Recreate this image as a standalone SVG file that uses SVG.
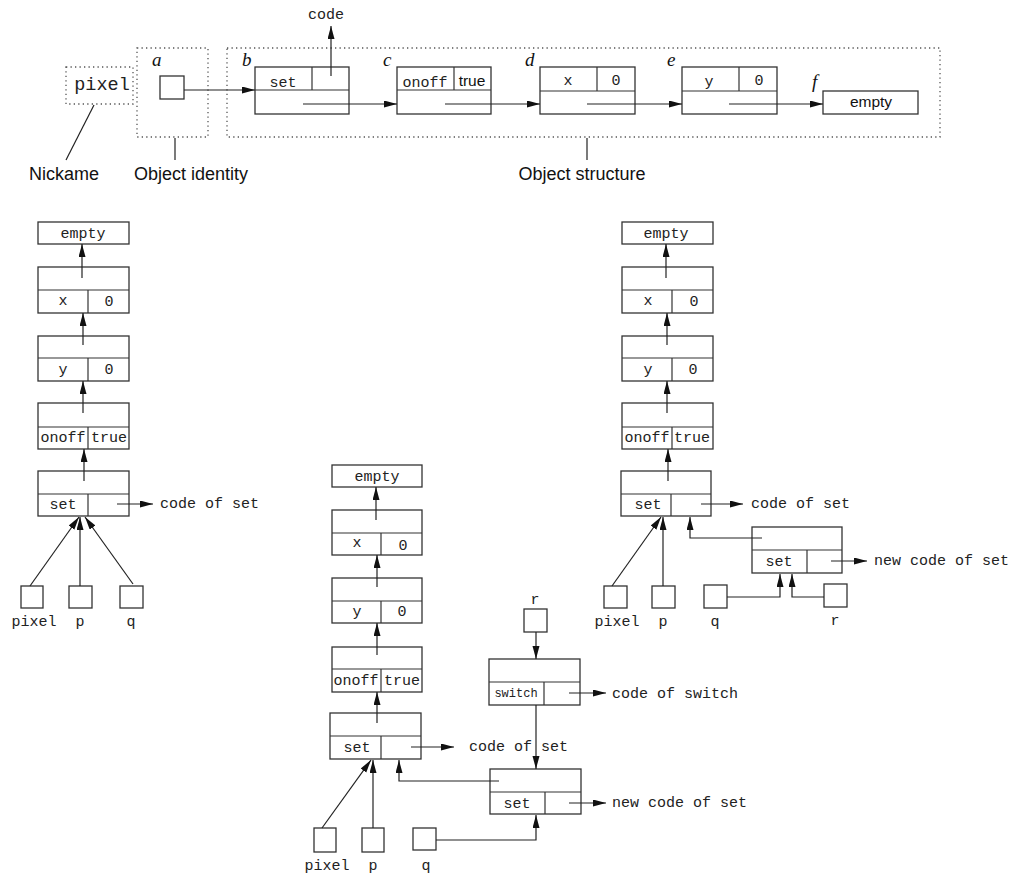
<svg xmlns="http://www.w3.org/2000/svg" width="1012" height="875" viewBox="0 0 1012 875">
<style>
.bx{fill:#fff;stroke:#333;stroke-width:1.3}
.ln{fill:none;stroke:#333;stroke-width:1.2}
.cn{fill:none;stroke:#222;stroke-width:1.2}
.dot{fill:none;stroke:#555;stroke-width:1.3;stroke-dasharray:1.3 3.2}
.m{font-family:"Liberation Mono","DejaVu Sans Mono",monospace;font-size:15px;fill:#222}
.ms{font-family:"Liberation Mono","DejaVu Sans Mono",monospace;font-size:12px;fill:#222}
.s{font-family:"Liberation Sans",Arial,sans-serif;font-size:15.5px;fill:#111}
.lbl{font-family:"Liberation Sans",Arial,sans-serif;font-size:18px;fill:#111}
.it{font-family:"Liberation Serif","Times New Roman",serif;font-style:italic;font-size:19px;fill:#111}
.c{text-anchor:middle}
</style>
<defs>
<marker id="ah" markerUnits="userSpaceOnUse" markerWidth="13" markerHeight="8" refX="13" refY="3.5" orient="auto">
<path d="M0,0 L13,3.5 L0,7 z" fill="#111"/>
</marker>
</defs>

<!-- Top row -->
<g id="nickname">
<rect class="dot" x="66" y="67" width="67" height="37"/>
<text class="m c" x="102" y="90" style="font-size:18.5px">pixel</text>
</g>
<g id="identity">
<rect class="dot" x="137" y="48" width="71" height="89"/>
<text class="it" x="152" y="66">a</text>
<rect class="bx" x="160" y="76" width="24" height="23"/>
</g>
<g id="structure">
<rect class="dot" x="227" y="48" width="713" height="89"/>
</g>
<g id="top-b">
<text class="it" x="242" y="66">b</text>
<rect class="bx" x="255" y="67" width="94" height="47"/>
<line class="ln" x1="255" y1="90" x2="349" y2="90"/>
<line class="ln" x1="312" y1="67" x2="312" y2="90"/>
<text class="m c" x="283" y="87">set</text>
</g>
<g id="top-c">
<text class="it" x="383" y="66">c</text>
<rect class="bx" x="397" y="67" width="94" height="47"/>
<line class="ln" x1="397" y1="90" x2="491" y2="90"/>
<line class="ln" x1="454" y1="67" x2="454" y2="90"/>
<text class="m c" x="425" y="87">onoff</text>
<text class="s c" x="472" y="86">true</text>
</g>
<g id="top-d">
<text class="it" x="525" y="66">d</text>
<rect class="bx" x="540" y="67" width="95" height="47"/>
<line class="ln" x1="540" y1="91" x2="635" y2="91"/>
<line class="ln" x1="597" y1="67" x2="597" y2="91"/>
<text class="m c" x="568" y="85">x</text>
<text class="m c" x="616" y="85">0</text>
</g>
<g id="top-e">
<text class="it" x="667" y="66">e</text>
<rect class="bx" x="682" y="67" width="95" height="47"/>
<line class="ln" x1="682" y1="91" x2="777" y2="91"/>
<line class="ln" x1="739" y1="67" x2="739" y2="91"/>
<text class="m c" x="709" y="86">y</text>
<text class="m c" x="759" y="85">0</text>
</g>
<g id="top-f">
<text class="it" x="812" y="88">f</text>
<rect class="bx" x="823" y="91" width="95" height="23"/>
<text class="s c" x="871" y="107">empty</text>
</g>
<g id="top-code"><text class="m c" x="326" y="19">code</text></g>
<g id="labels">
<text class="lbl c" x="64" y="180">Nickame</text>
<text class="lbl c" x="191" y="180">Object identity</text>
<text class="lbl c" x="582" y="180">Object structure</text>
</g>

<!-- Left column -->
<g id="L-empty"><rect class="bx" x="38" y="222" width="91" height="22"/><text class="m c" x="83" y="238">empty</text></g>
<g id="L-x"><rect class="bx" x="38" y="267" width="91" height="46"/><line class="ln" x1="38" y1="290" x2="129" y2="290"/><line class="ln" x1="88" y1="290" x2="88" y2="313"/><text class="m c" x="63" y="305">x</text><text class="m c" x="109" y="306">0</text></g>
<g id="L-y"><rect class="bx" x="38" y="336" width="91" height="45"/><line class="ln" x1="38" y1="358" x2="129" y2="358"/><line class="ln" x1="88" y1="358" x2="88" y2="381"/><text class="m c" x="63" y="374">y</text><text class="m c" x="109" y="374">0</text></g>
<g id="L-onoff"><rect class="bx" x="38" y="403" width="91" height="46"/><line class="ln" x1="38" y1="427" x2="129" y2="427"/><line class="ln" x1="88" y1="427" x2="88" y2="449"/><text class="m c" x="63" y="442">onoff</text><text class="m c" x="109" y="442">true</text></g>
<g id="L-set"><rect class="bx" x="38" y="471" width="91" height="45"/><line class="ln" x1="38" y1="494" x2="129" y2="494"/><line class="ln" x1="88" y1="494" x2="88" y2="516"/><text class="m c" x="63" y="509">set</text></g>
<g id="L-code"><text class="m" x="160" y="508">code of set</text></g>
<g id="L-pixel"><rect class="bx" x="21" y="586" width="22" height="22"/><text class="m c" x="34" y="626">pixel</text></g>
<g id="L-p"><rect class="bx" x="69" y="586" width="23" height="22"/><text class="m c" x="80" y="626">p</text></g>
<g id="L-q"><rect class="bx" x="120" y="586" width="23" height="22"/><text class="m c" x="131" y="626">q</text></g>

<!-- Middle column -->
<g id="M-empty"><rect class="bx" x="332" y="465" width="90" height="22"/><text class="m c" x="377" y="481">empty</text></g>
<g id="M-x"><rect class="bx" x="332" y="510" width="90" height="45"/><line class="ln" x1="332" y1="533" x2="422" y2="533"/><line class="ln" x1="381" y1="533" x2="381" y2="555"/><text class="m c" x="357" y="547">x</text><text class="m c" x="403" y="550">0</text></g>
<g id="M-y"><rect class="bx" x="332" y="578" width="90" height="45"/><line class="ln" x1="332" y1="601" x2="422" y2="601"/><line class="ln" x1="381" y1="601" x2="381" y2="623"/><text class="m c" x="357" y="616">y</text><text class="m c" x="402" y="616">0</text></g>
<g id="M-onoff"><rect class="bx" x="332" y="647" width="90" height="45"/><line class="ln" x1="332" y1="669" x2="422" y2="669"/><line class="ln" x1="381" y1="669" x2="381" y2="692"/><text class="m c" x="356" y="685">onoff</text><text class="m c" x="402" y="685">true</text></g>
<g id="M-set"><rect class="bx" x="330" y="713" width="91" height="46"/><line class="ln" x1="330" y1="736" x2="421" y2="736"/><line class="ln" x1="381" y1="736" x2="381" y2="759"/><text class="m c" x="357" y="752">set</text></g>
<g id="M-code"><text class="m" x="469" y="751">code of set</text></g>
<g id="M-switch"><rect class="bx" x="489" y="659" width="91" height="46"/><line class="ln" x1="489" y1="682" x2="580" y2="682"/><line class="ln" x1="544" y1="682" x2="544" y2="705"/><text class="ms c" x="516" y="697">switch</text></g>
<g id="M-switchcode"><text class="m" x="612" y="698">code of switch</text></g>
<g id="M-newset"><rect class="bx" x="490" y="769" width="91" height="45"/><line class="ln" x1="490" y1="792" x2="581" y2="792"/><line class="ln" x1="545" y1="792" x2="545" y2="814"/><text class="m c" x="517" y="808">set</text></g>
<g id="M-newcode"><text class="m" x="612" y="807">new code of set</text></g>
<g id="M-r"><rect class="bx" x="524" y="609" width="23" height="23"/><text class="m c" x="535" y="604">r</text></g>
<g id="M-pixel"><rect class="bx" x="314" y="828" width="22" height="24"/><text class="m c" x="327" y="870">pixel</text></g>
<g id="M-p"><rect class="bx" x="362" y="828" width="22" height="24"/><text class="m c" x="373" y="870">p</text></g>
<g id="M-q"><rect class="bx" x="413" y="828" width="23" height="22"/><text class="m c" x="426" y="870">q</text></g>

<!-- Right column -->
<g id="R-empty"><rect class="bx" x="622" y="222" width="91" height="22"/><text class="m c" x="666" y="238">empty</text></g>
<g id="R-x"><rect class="bx" x="622" y="267" width="91" height="46"/><line class="ln" x1="622" y1="290" x2="713" y2="290"/><line class="ln" x1="672" y1="290" x2="672" y2="313"/><text class="m c" x="648" y="305">x</text><text class="m c" x="694" y="306">0</text></g>
<g id="R-y"><rect class="bx" x="622" y="336" width="91" height="45"/><line class="ln" x1="622" y1="358" x2="713" y2="358"/><line class="ln" x1="672" y1="358" x2="672" y2="381"/><text class="m c" x="648" y="374">y</text><text class="m c" x="693" y="374">0</text></g>
<g id="R-onoff"><rect class="bx" x="622" y="403" width="91" height="46"/><line class="ln" x1="622" y1="427" x2="713" y2="427"/><line class="ln" x1="672" y1="427" x2="672" y2="449"/><text class="m c" x="647" y="442">onoff</text><text class="m c" x="692" y="442">true</text></g>
<g id="R-set"><rect class="bx" x="621" y="471" width="90" height="45"/><line class="ln" x1="621" y1="494" x2="711" y2="494"/><line class="ln" x1="671" y1="494" x2="671" y2="516"/><text class="m c" x="648" y="509">set</text></g>
<g id="R-code"><text class="m" x="751" y="508">code of set</text></g>
<g id="R-newset"><rect class="bx" x="752" y="527" width="90" height="46"/><line class="ln" x1="752" y1="550" x2="842" y2="550"/><line class="ln" x1="807" y1="550" x2="807" y2="573"/><text class="m c" x="779" y="566">set</text></g>
<g id="R-newcode"><text class="m" x="874" y="565">new code of set</text></g>
<g id="R-pixel"><rect class="bx" x="604" y="586" width="23" height="22"/><text class="m c" x="617" y="626">pixel</text></g>
<g id="R-p"><rect class="bx" x="652" y="586" width="23" height="22"/><text class="m c" x="663" y="626">p</text></g>
<g id="R-q"><rect class="bx" x="704" y="585" width="23" height="23"/><text class="m c" x="715" y="626">q</text></g>
<g id="R-r"><rect class="bx" x="824" y="584" width="23" height="23"/><text class="m c" x="835" y="625">r</text></g>

<g id="connectors">
<!-- top -->
<line class="cn" x1="175" y1="138" x2="175" y2="160"/>
<line class="cn" x1="587" y1="138" x2="587" y2="160"/>
<line class="cn" x1="94" y1="105" x2="66" y2="160"/>
<line class="cn" x1="331" y1="76" x2="331" y2="26" marker-end="url(#ah)"/>
<line class="cn" x1="184" y1="90" x2="255" y2="90" marker-end="url(#ah)"/>
<line class="cn" x1="303" y1="104" x2="397" y2="104" marker-end="url(#ah)"/>
<line class="cn" x1="445" y1="104" x2="540" y2="104" marker-end="url(#ah)"/>
<line class="cn" x1="587" y1="104" x2="682" y2="104" marker-end="url(#ah)"/>
<line class="cn" x1="729" y1="104" x2="823" y2="104" marker-end="url(#ah)"/>
<!-- left -->
<line class="cn" x1="82" y1="278" x2="82" y2="244" marker-end="url(#ah)"/>
<line class="cn" x1="83" y1="345" x2="83" y2="313" marker-end="url(#ah)"/>
<line class="cn" x1="83" y1="413" x2="83" y2="381" marker-end="url(#ah)"/>
<line class="cn" x1="84" y1="481" x2="84" y2="449" marker-end="url(#ah)"/>
<line class="cn" x1="117" y1="504" x2="153" y2="504" marker-end="url(#ah)"/>
<line class="cn" x1="30" y1="586" x2="79" y2="517" marker-end="url(#ah)"/>
<line class="cn" x1="80" y1="586" x2="80" y2="517" marker-end="url(#ah)"/>
<line class="cn" x1="133" y1="584" x2="85" y2="517" marker-end="url(#ah)"/>
<!-- middle -->
<line class="cn" x1="376" y1="520" x2="376" y2="487" marker-end="url(#ah)"/>
<line class="cn" x1="377" y1="587" x2="377" y2="555" marker-end="url(#ah)"/>
<line class="cn" x1="377" y1="655" x2="377" y2="623" marker-end="url(#ah)"/>
<line class="cn" x1="377" y1="723" x2="377" y2="692" marker-end="url(#ah)"/>
<line class="cn" x1="411" y1="747" x2="454" y2="747" marker-end="url(#ah)"/>
<line class="cn" x1="569" y1="693" x2="606" y2="693" marker-end="url(#ah)"/>
<line class="cn" x1="569" y1="803" x2="606" y2="803" marker-end="url(#ah)"/>
<line class="cn" x1="536" y1="632" x2="536" y2="659" marker-end="url(#ah)"/>
<line class="cn" x1="536" y1="705" x2="536" y2="769" marker-end="url(#ah)"/>
<polyline class="cn" points="499,781 399,781 399,760" marker-end="url(#ah)"/>
<polyline class="cn" points="436,840 536,840 536,815" marker-end="url(#ah)"/>
<line class="cn" x1="322" y1="828" x2="371" y2="760" marker-end="url(#ah)"/>
<line class="cn" x1="373" y1="828" x2="373" y2="760" marker-end="url(#ah)"/>
<!-- right -->
<line class="cn" x1="666" y1="278" x2="666" y2="244" marker-end="url(#ah)"/>
<line class="cn" x1="667" y1="345" x2="667" y2="313" marker-end="url(#ah)"/>
<line class="cn" x1="667" y1="413" x2="667" y2="381" marker-end="url(#ah)"/>
<line class="cn" x1="668" y1="481" x2="668" y2="449" marker-end="url(#ah)"/>
<line class="cn" x1="701" y1="504" x2="743" y2="504" marker-end="url(#ah)"/>
<line class="cn" x1="831" y1="561" x2="867" y2="561" marker-end="url(#ah)"/>
<polyline class="cn" points="762,538 690,538 690,517" marker-end="url(#ah)"/>
<line class="cn" x1="612" y1="586" x2="661" y2="517" marker-end="url(#ah)"/>
<line class="cn" x1="663" y1="586" x2="663" y2="517" marker-end="url(#ah)"/>
<polyline class="cn" points="727,597 780,597 780,574" marker-end="url(#ah)"/>
<polyline class="cn" points="824,597 792,597 792,574" marker-end="url(#ah)"/>
</g>
</svg>
